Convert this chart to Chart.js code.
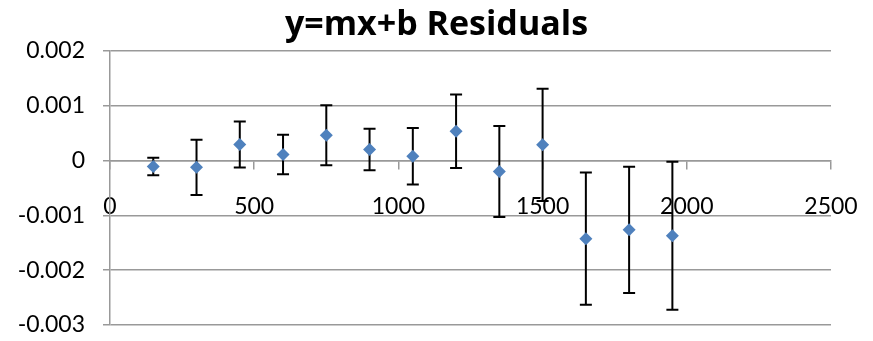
<!DOCTYPE html>
<html>
<head>
<meta charset="utf-8">
<script src="https://cdn.jsdelivr.net/npm/chart.js@4.4.0/dist/chart.umd.min.js"></script>
<style>
    html, body { margin: 0; padding: 0; background: #fff; }
    #wrap { width: 873px; height: 341px; }
</style>
</head>
<body>
<div id="wrap"><canvas id="residualChart" width="873" height="341"></canvas></div>
<script>
// x positions of the measurements
const xValues = [150, 300, 450, 600, 750, 900, 1050, 1200, 1350, 1500, 1650, 1800, 1950];
// residuals (y - (mx+b))
const residuals = [-0.00011, -0.000125, 0.00029, 0.00011, 0.00046, 0.0002, 0.000078, 0.000535, -0.0002, 0.000285, -0.001425, -0.001265, -0.001374];
// symmetric error bar half-lengths
const errors = [0.00016, 0.000505, 0.00042, 0.00036, 0.000547, 0.00038, 0.000515, 0.00067, 0.00083, 0.001025, 0.0012075, 0.00115, 0.00135];
// axis ticks
const xTicks = [0, 500, 1000, 1500, 2000, 2500];
const yTicks = [-0.003, -0.002, -0.001, 0, 0.001, 0.002];

const FONT = 'Lato, "Open Sans", sans-serif';

// Error bars: vertical line with caps, drawn under the markers
const errorBars = {
    id: 'errorBars',
    beforeDatasetsDraw(chart) {
        const { ctx, scales } = chart;
        const cap = 6;
        ctx.save();
        ctx.strokeStyle = '#000';
        ctx.lineWidth = 2;
        xValues.forEach((x, i) => {
            const px = scales.x.getPixelForValue(x);
            const top = scales.y.getPixelForValue(residuals[i] + errors[i]);
            const bottom = scales.y.getPixelForValue(residuals[i] - errors[i]);
            ctx.beginPath();
            ctx.moveTo(px, top);
            ctx.lineTo(px, bottom);
            ctx.moveTo(px - cap, top);
            ctx.lineTo(px + cap, top);
            ctx.moveTo(px - cap, bottom);
            ctx.lineTo(px + cap, bottom);
            ctx.stroke();
        });
        ctx.restore();
    }
};

new Chart(document.getElementById('residualChart'), {
    type: 'scatter',
    data: {
        datasets: [{
            label: 'Residuals',
            data: xValues.map((x, i) => ({ x: x, y: residuals[i] })),
            pointStyle: 'rectRot',
            pointRadius: 6.5,
            pointHoverRadius: 6.5,
            backgroundColor: '#4f81bd',
            borderColor: '#4f81bd',
            borderWidth: 0
        }]
    },
    options: {
        responsive: false,
        animation: false,
        layout: { padding: 0 },
        plugins: {
            legend: { display: false },
            tooltip: { enabled: false },
            title: {
                display: true,
                text: 'y=mx+b Residuals',
                color: '#000',
                font: { family: '"Open Sans", sans-serif', size: 34, weight: 'bold' },
                padding: { top: 5, bottom: 5 }
            }
        },
        scales: {
            x: {
                type: 'linear',
                position: { y: 0 },
                min: 0,
                max: 2500,
                afterBuildTicks: scale => { scale.ticks = xTicks.map(v => ({ value: v })); },
                // axis sits on y=0 inside the plot; fix the room left on the right
                afterFit: scale => {
                    scale.height = 0;
                    scale.paddingLeft = 0;
                    scale.paddingRight = 42;
                },
                ticks: {
                    color: '#000',
                    font: { family: FONT, size: 23 },
                    padding: 24,
                    maxRotation: 0,
                    callback: v => String(v)
                },
                grid: { drawOnChartArea: false, tickLength: 8, color: '#999', lineWidth: 1.5 },
                border: { color: '#999', width: 1.5 }
            },
            y: {
                min: -0.003,
                max: 0.002,
                afterBuildTicks: scale => { scale.ticks = yTicks.map(v => ({ value: v })); },
                afterFit: scale => {
                    scale.width = 110;
                    scale.paddingTop = 0;
                    scale.paddingBottom = 16;
                },
                ticks: {
                    color: '#000',
                    font: { family: FONT, size: 23 },
                    padding: 18,
                    callback: v => Math.abs(v) < 1e-12 ? '0' : v.toFixed(3)
                },
                grid: { color: '#999', lineWidth: 1.5, tickLength: 7 },
                border: { color: '#999', width: 1.5 }
            }
        }
    },
    plugins: [errorBars]
});
</script>
</body>
</html>
